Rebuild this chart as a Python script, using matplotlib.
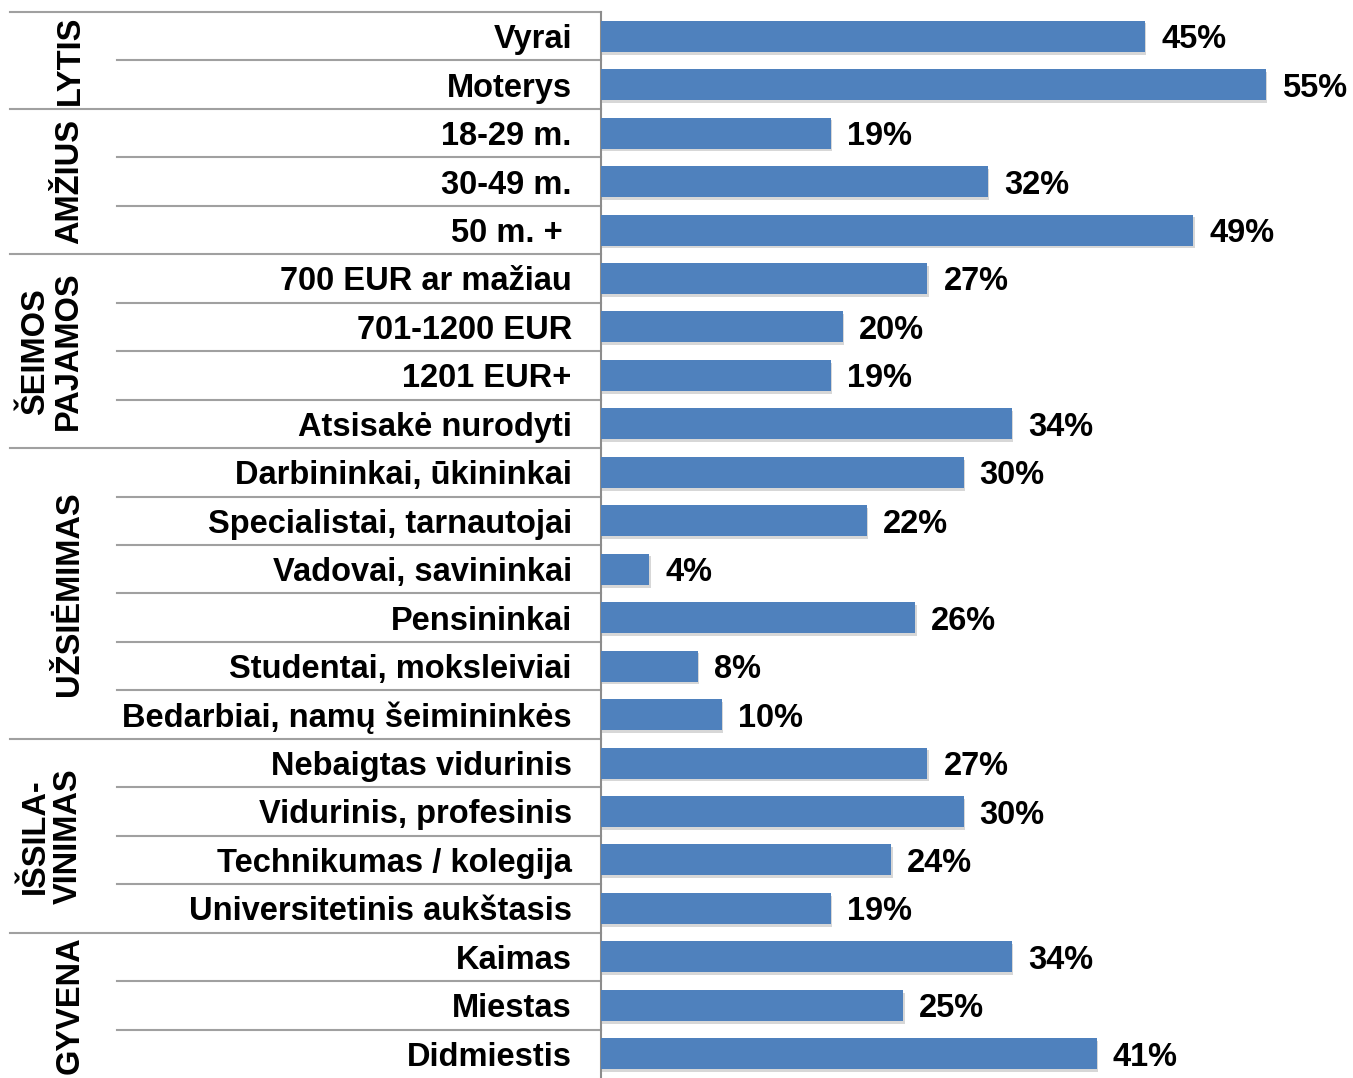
import matplotlib
matplotlib.use('Agg')
import matplotlib.pyplot as plt
import matplotlib.patheffects as pe
from matplotlib.transforms import blended_transform_factory

plt.rcParams['font.family'] = ['Liberation Sans', 'DejaVu Sans']
plt.rcParams['font.weight'] = 'bold'

categories = ['Vyrai', 'Moterys',
              '18-29 m.', '30-49 m.', '50 m. + ',
              '700 EUR ar mažiau', '701-1200 EUR', '1201 EUR+', 'Atsisakė nurodyti',
              'Darbininkai, ūkininkai', 'Specialistai, tarnautojai',
              'Vadovai, savininkai', 'Pensininkai', 'Studentai, moksleiviai',
              'Bedarbiai, namų šeimininkės',
              'Nebaigtas vidurinis', 'Vidurinis, profesinis',
              'Technikumas / kolegija', 'Universitetinis aukštasis',
              'Kaimas', 'Miestas', 'Didmiestis']
values = [45, 55, 19, 32, 49, 27, 20, 19, 34, 30, 22, 4, 26, 8, 10,
          27, 30, 24, 19, 34, 25, 41]
groups = ['LYTIS', 'AMŽIUS', 'ŠEIMOS\nPAJAMOS', 'UŽSIĖMIMAS',
          'IŠSILA-\nVINIMAS', 'GYVENA']
group_sizes = [2, 3, 4, 6, 4, 3]

FS = 23.5
W, H = 1353, 1078
fig = plt.figure(figsize=(W / 100, H / 100), dpi=100)
ax_left, ax_top = 601, 12
ax = fig.add_axes([ax_left / W, 0, (W - ax_left) / W, (H - ax_top) / H])

n = len(categories)
y = list(range(n))
bars = ax.barh(y, values, height=0.64, color='#4F81BD', zorder=3)
for b in bars:
    b.set_path_effects([pe.SimplePatchShadow(offset=(1, -2), shadow_rgbFace='#a8a8a8', alpha=0.45),
                        pe.Normal()])

ax.set_xlim(0, 62.2)
ax.set_ylim(n - 0.5, -0.5)
ax.set_xticks([])
ax.set_yticks(y)
ax.set_yticklabels(categories, fontsize=FS, fontweight='bold')
ax.tick_params(axis='y', length=0, pad=21)
for lbl in ax.get_yticklabels():
    lbl.set_verticalalignment('center_baseline')
for s in ['top', 'right', 'bottom']:
    ax.spines[s].set_visible(False)
ax.spines['left'].set_color('#8c8c8c')
ax.spines['left'].set_linewidth(1.5)

for i, v in enumerate(values):
    ax.annotate(f'{v}%', (v, i), xytext=(11.5, 0), textcoords='offset points',
                ha='left', va='center_baseline', fontsize=FS, fontweight='bold')

# separators and group labels
trans = blended_transform_factory(ax.transAxes, ax.transData)
x_row = (117 - ax_left) / (W - ax_left)
x_grp = (10 - ax_left) / (W - ax_left)
start = 0
ax.plot([x_grp, 0], [-0.5, -0.5], transform=trans, clip_on=False,
        color='#a0a0a0', lw=1.5)
for g, size in zip(groups, group_sizes):
    end = start + size
    for k in range(start + 1, end):
        ax.plot([x_row, 0], [k - 0.5, k - 0.5], transform=trans, clip_on=False,
                color='#a0a0a0', lw=1.5)
    if end < n:
        ax.plot([x_grp, 0], [end - 0.5, end - 0.5], transform=trans, clip_on=False,
                color='#a0a0a0', lw=1.5)
    xc = 52 if '\n' in g else 70
    ax.text((xc - ax_left) / (W - ax_left), (start + end - 1) / 2, g,
            transform=trans, rotation=90, ha='center', va='center',
            fontsize=FS, fontweight='bold', linespacing=1.1,
            multialignment='center')
    start = end

fig.savefig('out.png', dpi=100)
